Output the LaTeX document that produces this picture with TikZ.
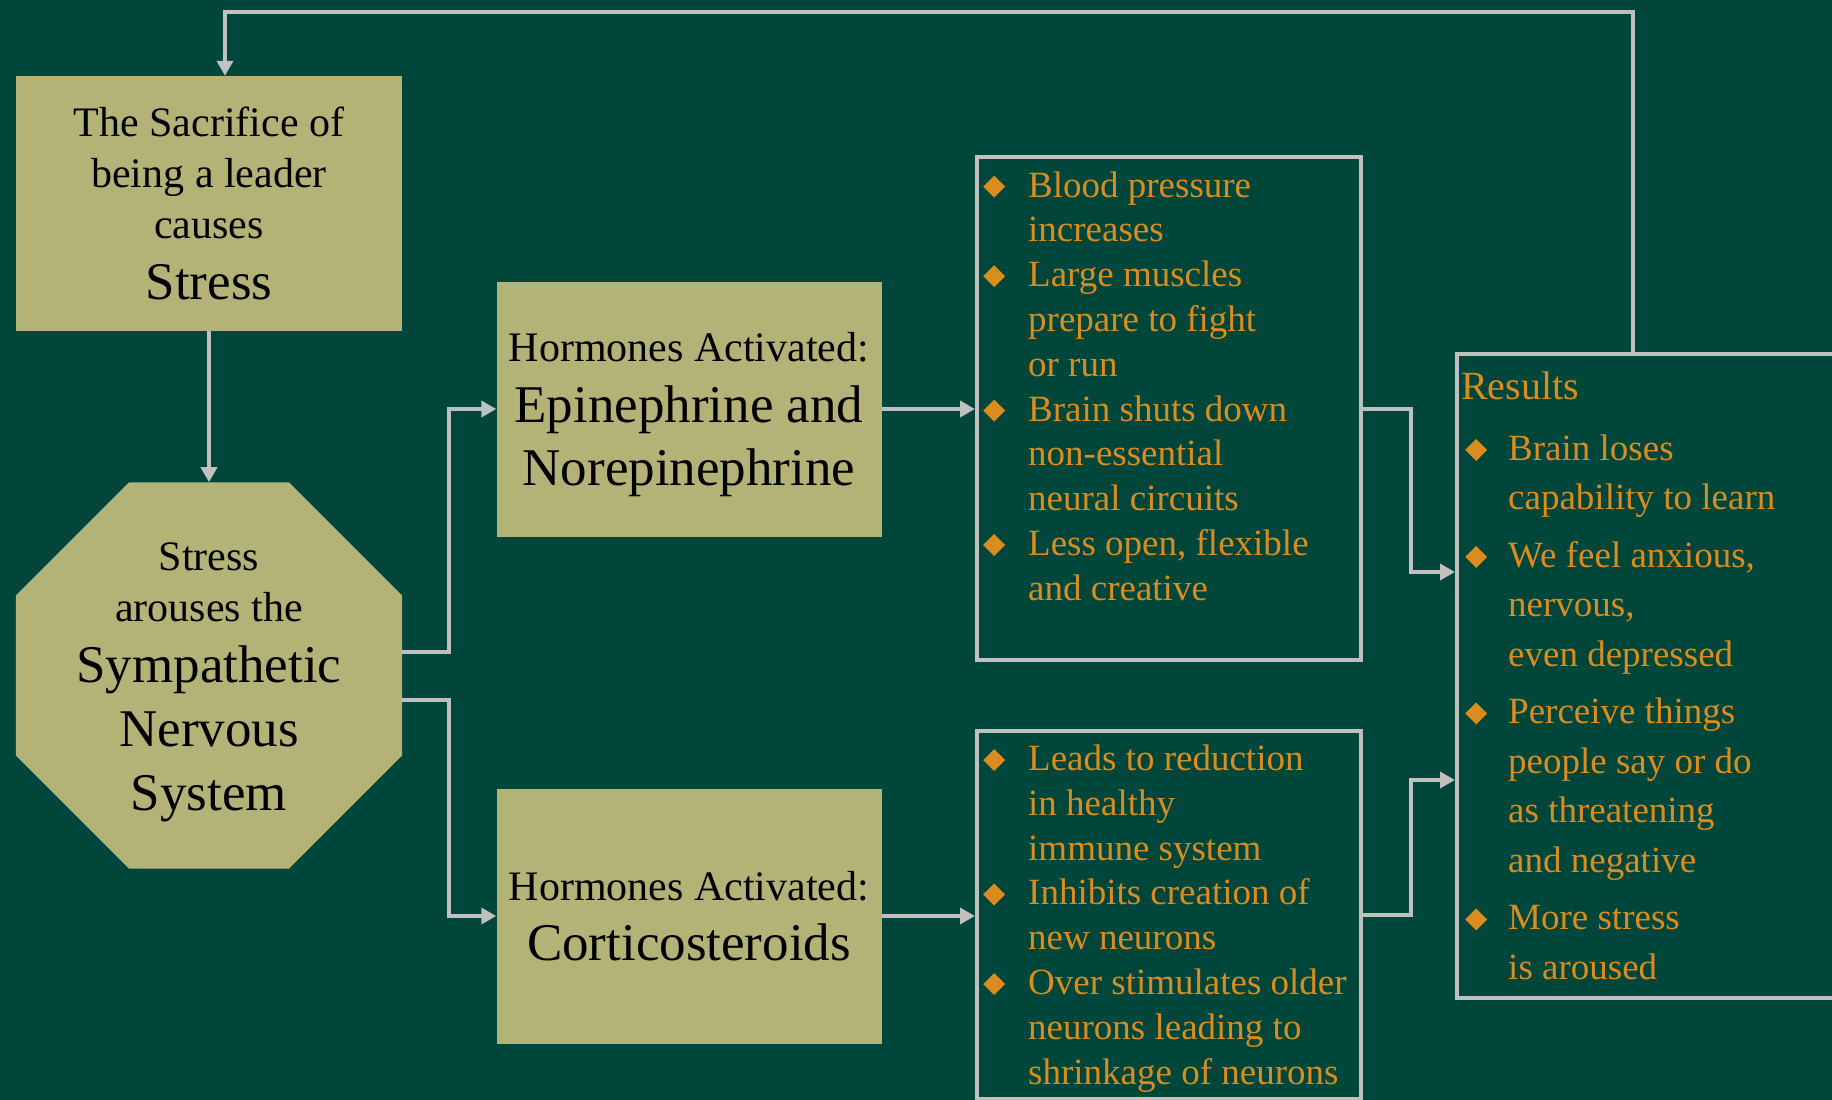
\documentclass[tikz,border=0pt]{standalone}
\usepackage{fontspec}
\setmainfont{Liberation Serif}
\usetikzlibrary{arrows.meta,shapes.geometric,calc}
\definecolor{bg}{RGB}{0,70,58}
\definecolor{khaki}{RGB}{179,179,119}
\definecolor{orng}{RGB}{218,140,30}
\definecolor{wire}{RGB}{192,192,192}
% diamond bullet and continuation indent for the orange lists
\newcommand\dia{\raisebox{-0.5pt}{\rotatebox{45}{\color{orng}\rule{15.5pt}{15.5pt}}}}
\newcommand\itm{\strut\makebox[45pt][l]{\dia}}
\newcommand\cnt{\hspace*{45pt}}
\newcommand\ritm{\strut\makebox[43pt][l]{\dia}}
\newcommand\rcnt{\hspace*{43pt}}
\newcommand\bigtxt{\fontsize{53}{63}\selectfont}
\begin{document}
\begin{tikzpicture}[x=1pt,y=-1pt,
  kbox/.style={fill=khaki, draw=none, inner sep=0pt, align=center, text=black,
    font=\fontsize{42}{51}\selectfont},
  ktext/.style={inner sep=0pt, align=center, text=black, font=\fontsize{42}{51}\selectfont},
  octo/.style={regular polygon, regular polygon sides=8, minimum size=418pt,
    inner sep=0pt, fill=khaki, draw=none},
  obox/.style={draw=wire, line width=4pt, fill=none, inner sep=0pt},
  list/.style={inner sep=0pt, align=left, text=orng, anchor=north west,
    font=\fontsize{37}{44.8}\selectfont},
  rlist/.style={inner sep=0pt, align=left, text=orng, anchor=north west,
    font=\fontsize{37}{49.5}\selectfont},
  conn/.style={draw=wire, line width=4pt, -{Triangle[length=15pt,width=16pt]}}]

\useasboundingbox[fill=bg] (0,0) rectangle (1832,1100);

% left column: cause and nervous system
\node[kbox, minimum width=386pt, minimum height=255pt] (src) at (209,203.5)
  {The Sacrifice of\\being a leader\\causes\\[10pt]{\bigtxt Stress}};
\node[octo] (sns) at (209,675.5) {};
\node[ktext] (snst) at ($(sns.center)+(0,7)$)
  {Stress\\arouses the\\[10pt]{\bigtxt Sympathetic}\\[13pt]{\bigtxt Nervous}\\[13pt]{\bigtxt System}};

% hormone boxes
\node[kbox, minimum width=385pt, minimum height=255pt] (epi) at (689,409) {};
\node[ktext] (epit) at ($(epi.center)+(0,6)$)
  {Hormones Activated:\\[10pt]{\bigtxt Epinephrine and}\\[12pt]{\bigtxt Norepinephrine}};
\node[kbox, minimum width=385pt, minimum height=255pt] (cor) at (689,916)
  {Hormones Activated:\\[9pt]{\bigtxt Corticosteroids}};

% effect boxes
\node[obox, minimum width=384pt, minimum height=503pt] (fx1) at (1169,408.5) {};
\node[obox, minimum width=384pt, minimum height=368pt] (fx2) at (1169,915) {};
\node[obox, minimum width=500pt, minimum height=644pt] (res) at (1707,676) {};

\node[list] (fx1t) at (983,165.5)
  {\itm Blood pressure\\\cnt increases\\\itm Large muscles\\\cnt prepare to fight\\\cnt or run\\
   \itm Brain shuts down\\\cnt non-essential\\\cnt neural circuits\\
   \itm Less open, flexible\\\cnt and creative};
\node[list] (fx2t) at (983,739)
  {\itm Leads to reduction\\\cnt in healthy\\\cnt immune system\\
   \itm Inhibits creation of\\\cnt new neurons\\
   \itm Over stimulates older\\\cnt neurons leading to\\\cnt shrinkage of neurons};

\node[anchor=base west, inner sep=0pt, text=orng, font=\fontsize{40}{48}\selectfont] (rest) at (1461,399) {Results};
\node[rlist] (rlst) at (1465,425.5)
  {\ritm Brain loses\\\rcnt capability to learn\\[8pt]
   \ritm We feel anxious,\\\rcnt nervous,\\\rcnt even depressed\\[8pt]
   \ritm Perceive things\\\rcnt people say or do\\\rcnt as threatening\\\rcnt and negative\\[8pt]
   \ritm More stress\\\rcnt is aroused};

% connectors
\draw[conn] (src.south) -- (sns.north);
\draw[conn] (sns.east) ++(0,-23.5) -- ++(47,0) |- (epi.west);
\draw[conn] (sns.east) ++(0,24.5) -- ++(47,0) |- (cor.west);
\draw[conn] (epi.east) -- (fx1.west |- epi.east);
\draw[conn] (cor.east) -- (fx2.west |- cor.east);
\draw[conn] (fx1.east) -- ++(48,0) |- ($(res.west)+(0,-104)$);
\draw[conn] (fx2.east) -- ++(48,0) |- ($(res.west)+(0,104)$);

% feedback loop back to the top
\coordinate (fbR) at (1633,12);
\coordinate (fbL) at (225,12);
\draw[conn] (res.north -| fbR) -- (fbR) -- (fbL) -- (fbL |- src.north);
\end{tikzpicture}
\end{document}
